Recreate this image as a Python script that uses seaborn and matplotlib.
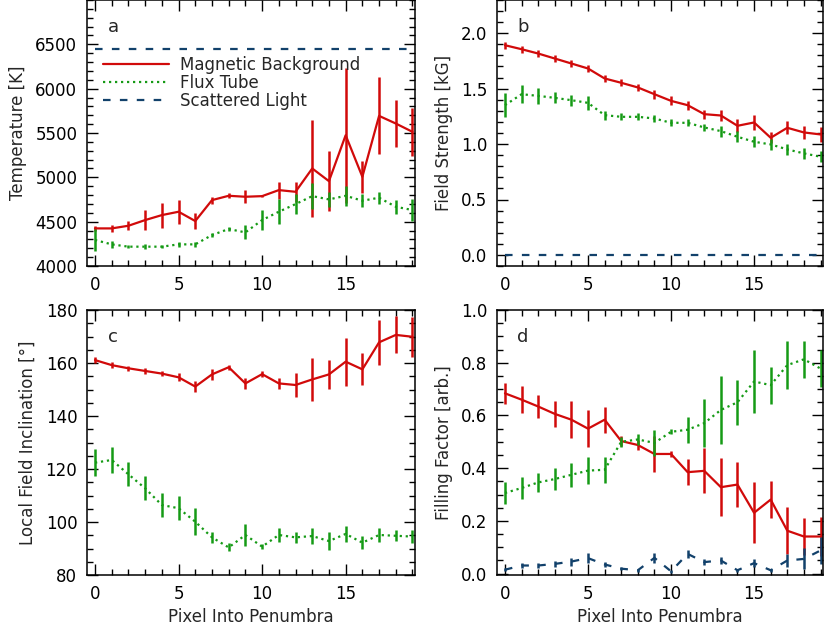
import numpy as np
import pandas as pd
import matplotlib
matplotlib.use("Agg")
import matplotlib.pyplot as plt
from matplotlib.ticker import MultipleLocator, FixedLocator, FormatStrFormatter
import seaborn as sns

pixels = list(range(20))

# Panel a: Temperature [K]
temp_mag = [4424, 4424, 4454, 4518, 4574, 4612, 4507, 4743, 4792, 4781,
            4788, 4856, 4837, 5100, 4957, 5475, 5006, 5693, 5607, 5513]
temp_mag_err = [30, 40, 50, 110, 140, 135, 95, 40, 30, 75,
                15, 95, 115, 550, 335, 760, 180, 435, 265, 270]
temp_ft = [4293, 4244, 4218, 4218, 4218, 4244, 4244, 4349, 4417, 4379,
           4518, 4612, 4698, 4788, 4751, 4792, 4736, 4770, 4668, 4631]
temp_ft_err = [120, 40, 20, 25, 20, 30, 30, 20, 25, 80,
               115, 140, 115, 145, 80, 110, 75, 70, 80, 125]
temp_sl = [6450] * 20

# Panel b: Field strength [kG]
b_mag = [1.892, 1.856, 1.817, 1.772, 1.727, 1.682, 1.592, 1.553, 1.511, 1.450,
         1.390, 1.351, 1.270, 1.258, 1.165, 1.195, 1.057, 1.147, 1.105, 1.087]
b_mag_err = [0.03, 0.03, 0.03, 0.03, 0.03, 0.03, 0.03, 0.03, 0.03, 0.04,
             0.04, 0.04, 0.04, 0.05, 0.06, 0.07, 0.05, 0.06, 0.06, 0.07]
b_ft = [1.351, 1.450, 1.435, 1.417, 1.396, 1.372, 1.261, 1.246, 1.246, 1.231,
        1.192, 1.192, 1.150, 1.117, 1.066, 1.021, 0.997, 0.952, 0.916, 0.886]
b_ft_err = [0.11, 0.08, 0.07, 0.05, 0.05, 0.06, 0.04, 0.03, 0.03, 0.03,
            0.03, 0.03, 0.03, 0.05, 0.05, 0.05, 0.05, 0.05, 0.05, 0.05]
b_sl = [0.0] * 20

# Panel c: Local field inclination [deg]
inc_mag = [161.1, 159.2, 158.0, 157.0, 156.0, 154.6, 151.1, 155.7, 158.4, 152.3,
           155.8, 152.3, 151.7, 153.8, 155.7, 160.5, 157.6, 167.8, 170.6, 169.9]
inc_mag_err = [1, 1, 1, 1, 1, 1.5, 2, 2, 1, 2,
               1, 2, 4.5, 8, 5.5, 9, 6, 8.5, 7, 7.5]
inc_ft = [122.4, 123.4, 118.0, 112.7, 106.4, 105.2, 100.1, 94.2, 90.4, 95.1,
          90.7, 95.1, 94.2, 94.7, 92.8, 95.5, 92.2, 95.1, 94.8, 94.5]
inc_ft_err = [5, 5, 4.5, 4.5, 4.5, 4.5, 5, 2, 1.5, 4,
              1, 2.5, 2, 3, 3.5, 3, 2.5, 2.5, 2, 2.5]

# Panel d: Filling factor [arb.]
ff_mag = [0.684, 0.660, 0.634, 0.606, 0.584, 0.550, 0.584, 0.503, 0.488, 0.454,
          0.454, 0.385, 0.390, 0.328, 0.338, 0.231, 0.281, 0.163, 0.141, 0.141]
ff_mag_err = [0.04, 0.05, 0.045, 0.05, 0.07, 0.07, 0.05, 0.02, 0.02, 0.07,
              0.01, 0.05, 0.085, 0.11, 0.085, 0.115, 0.07, 0.09, 0.07, 0.075]
ff_ft = [0.306, 0.325, 0.346, 0.359, 0.375, 0.391, 0.394, 0.500, 0.509, 0.496,
         0.538, 0.546, 0.571, 0.621, 0.650, 0.729, 0.715, 0.791, 0.813, 0.778]
ff_ft_err = [0.04, 0.04, 0.035, 0.04, 0.045, 0.05, 0.05, 0.02, 0.02, 0.05,
             0.01, 0.05, 0.09, 0.13, 0.085, 0.12, 0.07, 0.09, 0.07, 0.07]
ff_sl = [0.015, 0.031, 0.031, 0.037, 0.046, 0.059, 0.035, 0.019, 0.013, 0.060,
         0.009, 0.075, 0.044, 0.050, 0.013, 0.040, 0.013, 0.050, 0.056, 0.088]
ff_sl_err = [0.005, 0.01, 0.01, 0.01, 0.015, 0.02, 0.01, 0.005, 0.005, 0.02,
             0.005, 0.015, 0.01, 0.015, 0.005, 0.015, 0.005, 0.025, 0.04, 0.05]

series_names = ["Magnetic Background", "Flux Tube", "Scattered Light"]
temp_ticks = [4000, 4500, 5000, 5500, 6000, 6500]

sns.set_theme(style="ticks")
plt.rcParams["font.family"] = ["DejaVu Sans"]
plt.rcParams["axes.linewidth"] = 1.1

RED = "#d10a0a"
GREEN = "#159a15"
BLUE = "#12416b"
DOT = (0, (1, 1.7))
DASH = (0, (3.4, 4.2))
styles = {
    "Magnetic Background": dict(color=RED, ls="-"),
    "Flux Tube": dict(color=GREEN, ls=DOT),
    "Scattered Light": dict(color=BLUE, ls=DASH),
}

fig = plt.figure(figsize=(8.3, 6.28), dpi=100)
W, H = 830.0, 628.0


def make_ax(x0, x1, y0, y1):
    return fig.add_axes([x0 / W, 1 - y1 / H, (x1 - x0) / W, (y1 - y0) / H])


ax_a = make_ax(87, 415, 0, 266)
ax_b = make_ax(497, 823, 0, 266)
ax_c = make_ax(87, 415, 310, 575)
ax_d = make_ax(497, 823, 310, 575)


def draw(ax, data):
    for name, vals, errs in data:
        st = styles[name]
        df = pd.DataFrame({"pixel": pixels, "value": vals})
        sns.lineplot(data=df, x="pixel", y="value", ax=ax, color=st["color"],
                     linestyle=st["ls"], linewidth=1.6, label=name, legend=False)
        if errs is not None:
            v = np.array(vals, dtype=float)
            e = np.array(errs, dtype=float)
            ax.vlines(pixels, v - e, v + e, color=st["color"], linewidth=1.8)


draw(ax_a, [("Magnetic Background", temp_mag, temp_mag_err),
            ("Flux Tube", temp_ft, temp_ft_err),
            ("Scattered Light", temp_sl, None)])
draw(ax_b, [("Magnetic Background", b_mag, b_mag_err),
            ("Flux Tube", b_ft, b_ft_err),
            ("Scattered Light", b_sl, None)])
draw(ax_c, [("Magnetic Background", inc_mag, inc_mag_err),
            ("Flux Tube", inc_ft, inc_ft_err)])
draw(ax_d, [("Magnetic Background", ff_mag, ff_mag_err),
            ("Flux Tube", ff_ft, ff_ft_err),
            ("Scattered Light", ff_sl, ff_sl_err)])

cfg = [
    (ax_a, "a", (4000, 7000), 500, 100, "%d", "Temperature [K]"),
    (ax_b, "b", (-0.1, 2.3), 0.5, 0.1, "%.1f", "Field Strength [kG]"),
    (ax_c, "c", (80, 180), 20, 5, "%d", "Local Field Inclination [°]"),
    (ax_d, "d", (-0.005, 1.0), 0.2, 0.05, "%.1f", "Filling Factor [arb.]"),
]
for ax, letter, ylim, maj, mnr, fmt, ylabel in cfg:
    ax.set_xlim(-0.48, 19.15)
    ax.set_ylim(*ylim)
    ax.xaxis.set_major_locator(MultipleLocator(5))
    ax.xaxis.set_minor_locator(MultipleLocator(1))
    ax.yaxis.set_major_locator(MultipleLocator(maj))
    ax.yaxis.set_minor_locator(MultipleLocator(mnr))
    ax.yaxis.set_major_formatter(FormatStrFormatter(fmt))
    ax.tick_params(which="both", direction="in", top=True, right=True,
                   labelsize=12, colors="black", width=1.0, pad=7)
    ax.tick_params(which="major", length=8)
    ax.tick_params(which="minor", length=4)
    for s in ax.spines.values():
        s.set_color("black")
        s.set_visible(True)
    ax.set_ylabel(ylabel, fontsize=12, labelpad=6)
    ax.set_xlabel("")
    ax.text(0.08, 0.9, letter, transform=ax.transAxes, fontsize=13,
            ha="center", va="center")

ax_a.yaxis.set_major_locator(FixedLocator(temp_ticks))

ax_c.set_xlabel("Pixel Into Penumbra", fontsize=12, labelpad=4)
ax_d.set_xlabel("Pixel Into Penumbra", fontsize=12, labelpad=4)

handles = [plt.Line2D([], [], color=styles[n]["color"], linestyle=styles[n]["ls"],
                      linewidth=1.6) for n in series_names]
ax_a.legend(handles, series_names, loc="upper left", bbox_to_anchor=(0.049, 0.79),
            frameon=False, fontsize=12, handlelength=3.95, handletextpad=0.66,
            labelspacing=0.0, borderaxespad=0.0, borderpad=0.0)

fig.savefig("out.png", dpi=100)
